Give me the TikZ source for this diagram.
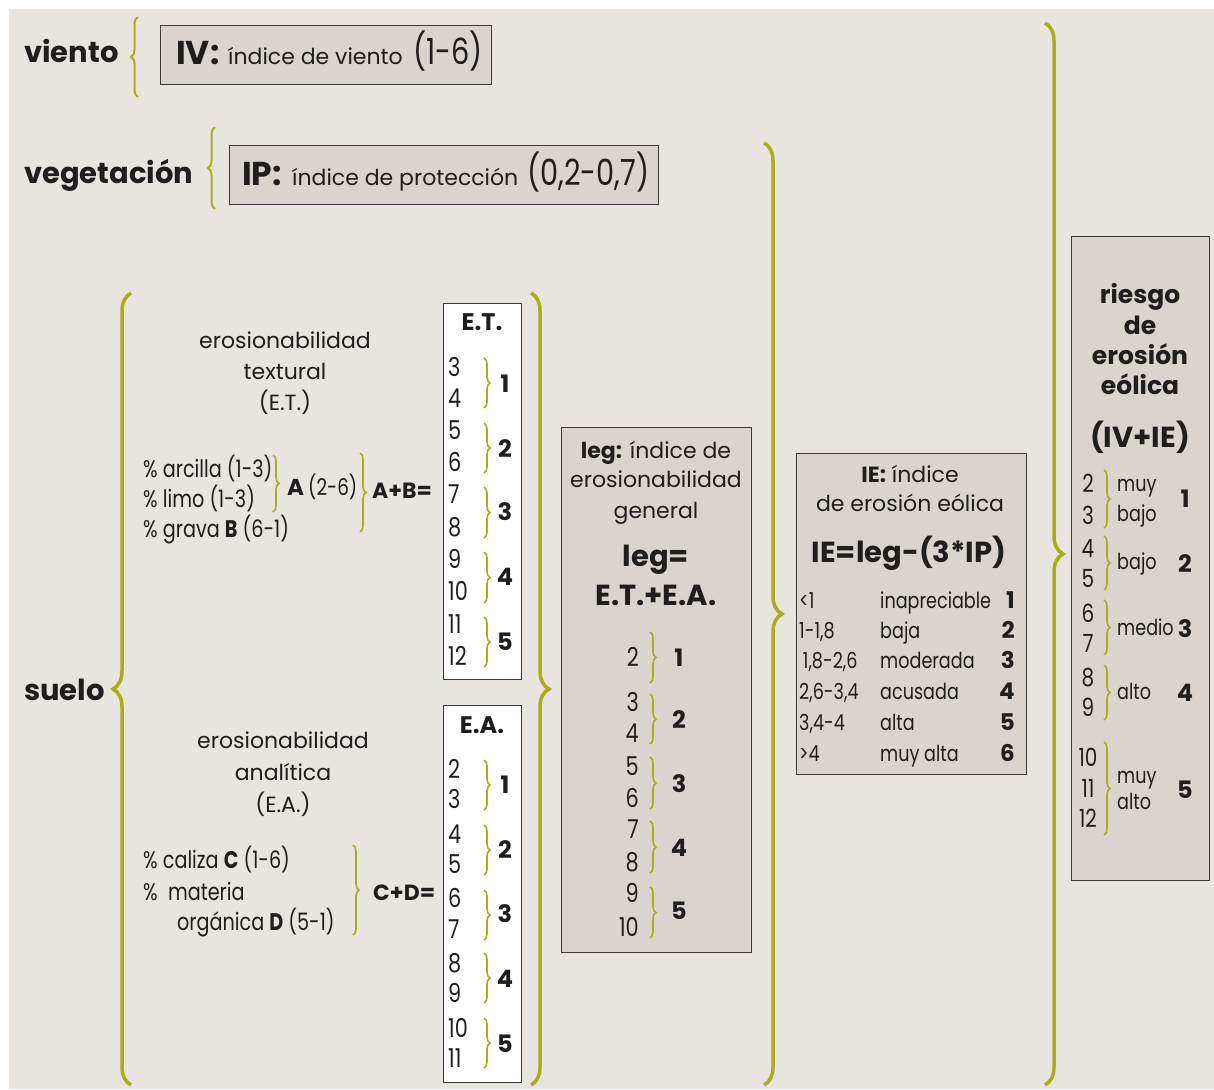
\documentclass[tikz,border=0pt]{standalone}
\usepackage{fontspec}
\setmainfont{Poppins}
\newfontfamily\cnd[FakeStretch=0.8]{Poppins}
\usetikzlibrary{decorations.pathreplacing}
\definecolor{bgc}{RGB}{232,228,224}
\definecolor{boxfill}{RGB}{217,212,206}
\definecolor{brolive}{RGB}{169,173,27}
\definecolor{ink}{RGB}{30,30,30}
\definecolor{framec}{RGB}{60,60,60}
\newcommand{\fsz}[1]{\fontsize{#1}{#1}\selectfont}
\begin{document}
\begin{tikzpicture}[x=1pt,y=-1pt,
  txt/.style={anchor=base west, inner sep=0pt, text=ink},
  ctxt/.style={anchor=base, inner sep=0pt, text=ink},
  rtxt/.style={anchor=base east, inner sep=0pt, text=ink},
  bigbrace/.style={draw=brolive, line width=3.5pt, decorate, decoration={brace, amplitude=18pt}},
  midbrace/.style={draw=brolive, line width=2pt, decorate, decoration={brace, amplitude=7pt}},
  smallbrace/.style={draw=brolive, line width=1.6pt, decorate, decoration={brace, amplitude=6pt}},
  graybox/.style={draw=framec, fill=boxfill, line width=1.3pt, anchor=north west, inner sep=0pt},
  whitebox/.style={draw=framec, fill=white, line width=1.3pt, anchor=north west, inner sep=0pt},
  lab/.style={txt, font=\bfseries\fsz{29}},
  body/.style={font=\fsz{22}},
  cond/.style={font=\cnd\fsz{24}},
  dig/.style={font=\cnd\fsz{26}},
  bnum/.style={ctxt, font=\bfseries\fsz{24}},
  hd/.style={ctxt, font=\bfseries\fsz{24}},
  bighd/.style={ctxt, font=\bfseries\fsz{29}}
]
\useasboundingbox (0,0) rectangle (1214,1089);
\fill[white] (0,0) rectangle (1214,1089);
\fill[bgc] (9,9) rectangle (1214,1089);

% ---------------- viento ----------------
\node[lab] (viento) at (24,63) {viento};
\draw[midbrace] (138,97) -- (138,17);
\node[graybox, minimum width=331pt, minimum height=59pt] (ivbox) at (160,25) {};
\node[txt, font=\bfseries\fsz{33}] (ivA) at (176,65) {IV:};
\node[txt, font=\fsz{22}] (ivB) at (228,65) {índice de viento};
\node[txt, font=\cnd\fsz{36}] (ivC) at (413,65) {(1-6)};

% ---------------- vegetacion ----------------
\node[lab] (veg) at (24,183) {vegetación};
\draw[midbrace] (215,209) -- (215,127);
\node[graybox, minimum width=429pt, minimum height=59pt] (ipbox) at (229,145) {};
\node[txt, font=\bfseries\fsz{33}] (ipA) at (242,185) {IP:};
\node[txt, font=\fsz{22}] (ipB) at (292,185) {índice de protección};
\node[txt, font=\cnd\fsz{36}] (ipC) at (527,185) {(0,2-0,7)};

% ---------------- suelo ----------------
\node[lab] (suelo) at (24,700) {suelo};
\draw[bigbrace] (131,1085) -- (131,293);

% textural
\node[ctxt, body] (et1) at (285,348) {erosionabilidad};
\node[ctxt, body] (et2) at (285,379) {textural};
\node[ctxt, body] (et3) at (285,410) {(E.T.)};
\node[txt, cond] (arc) at (143,477) {\% arcilla (1-3)};
\node[txt, cond] (lim) at (143,507) {\% limo (1-3)};
\node[txt, cond] (gra) at (143,537) {\% grava \textbf{B} (6-1)};
\draw[smallbrace] (273,455) -- (273,512);
\node[txt, font=\bfseries\fsz{23}] (aA) at (287,495) {A};
\node[txt, font=\cnd\fsz{23}] (aB) at (308,495) {(2-6)};
\draw[smallbrace] (360,453) -- (360,532);
\node[txt, font=\bfseries\fsz{22}] (apb) at (372,498) {A+B=};

\node[whitebox, minimum width=78pt, minimum height=376pt] (etbox) at (443,303) {};
\node[hd] (ethd) at (482,330) {E.T.};
\foreach \n/\y in {3/376,4/407,5/439,6/471,7/503,8/536,9/568,10/600,11/633,12/665}
  \node[txt, dig] (etd\n) at (448,\y) {\n};
\foreach \a/\b in {358/408,423/473,487/538,552/603,617/667}
  \draw[smallbrace] (484,\a) -- (484,\b);
\foreach \n/\y in {1/392,2/457,3/520,4/585,5/650}
  \node[bnum] (etn\n) at (505,\y) {\n};

% analitica
\node[ctxt, body] (ea1) at (283,748) {erosionabilidad};
\node[ctxt, body] (ea2) at (283,780) {analítica};
\node[ctxt, body] (ea3) at (283,812) {(E.A.)};
\node[txt, cond] (cal) at (143,868) {\% caliza \textbf{C} (1-6)};
\node[txt, cond] (mat) at (143,900) {\%\ \ materia};
\node[txt, cond] (org) at (177,930) {orgánica \textbf{D} (5-1)};
\draw[smallbrace] (353,845) -- (353,935);
\node[txt, font=\bfseries\fsz{22}] (cpd) at (373,900) {C+D=};

\node[whitebox, minimum width=78pt, minimum height=377pt] (eabox) at (443,705) {};
\node[hd] (eahd) at (482,733) {E.A.};
\foreach \n/\y in {2/778,3/808,4/843,5/873,6/907,7/938,8/972,9/1002,10/1037,11/1067}
  \node[txt, dig] (ead\n) at (448,\y) {\n};
\foreach \a/\b in {760/810,825/875,890/940,953/1003,1018/1068}
  \draw[smallbrace] (484,\a) -- (484,\b);
\foreach \n/\y in {1/793,2/858,3/922,4/987,5/1052}
  \node[bnum] (ean\n) at (505,\y) {\n};

\draw[bigbrace] (531,293) -- (531,1085);

% ---------------- leg ----------------
\node[graybox, minimum width=190pt, minimum height=525pt] (legbox) at (561,427) {};
\node[ctxt, body] (leg1) at (656,458) {\textbf{leg:} índice de};
\node[ctxt, body] (leg2) at (656,487) {erosionabilidad};
\node[ctxt, body] (leg3) at (656,518) {general};
\node[bighd] (leg4) at (656,566) {leg=};
\node[bighd] (leg5) at (656,605) {E.T.+E.A.};
\foreach \n/\y in {2/666,3/711,4/742,5/775,6/807,7/838,8/871,9/902,10/936}
  \node[rtxt, dig] (legd\n) at (639,\y) {\n};
\foreach \a/\b in {632/683,694/744,757/809,821/873,887/938}
  \draw[smallbrace] (650,\a) -- (650,\b);
\foreach \n/\y in {1/666,2/728,3/792,4/856,5/919}
  \node[bnum] (legn\n) at (679,\y) {\n};

\draw[bigbrace] (764,143) -- (764,1085);

% ---------------- IE ----------------
\node[graybox, minimum width=230pt, minimum height=321pt] (iebox) at (796,453) {};
\node[ctxt, body] (ie1) at (910,482) {\textbf{IE:} índice};
\node[ctxt, body] (ie2) at (910,511) {de erosión eólica};
\node[bighd] (ie3) at (909,562) {IE=leg-(3*IP)};
\foreach \i/\a/\b/\c/\y in {1/{<1}/inapreciable/1/608, 2/{1-1,8}/baja/2/638, 3/{\,1,8-2,6}/moderada/3/668, 4/{2,6-3,4}/acusada/4/699, 5/{3,4-4}/alta/5/730, 6/{>4}/muy alta/6/761}{
  \node[txt, font=\cnd\fsz{22}] (iea\i) at (799,\y) {\a};
  \node[txt, font=\cnd\fsz{22}] (ieb\i) at (880,\y) {\b};
  \node[rtxt, font=\bfseries\fsz{23}] (iec\i) at (1015,\y) {\c};
}

\draw[bigbrace] (1045,23) -- (1045,1085);

% ---------------- riesgo ----------------
\node[graybox, minimum width=138pt, minimum height=644pt] (rbox) at (1071,236) {};
\node[ctxt, font=\bfseries\fsz{25}] (r1) at (1140,303) {riesgo};
\node[ctxt, font=\bfseries\fsz{25}] (r2) at (1140,334) {de};
\node[ctxt, font=\bfseries\fsz{25}] (r3) at (1140,364) {erosión};
\node[ctxt, font=\bfseries\fsz{25}] (r4) at (1140,394) {eólica};
\node[bighd] (r5) at (1140,447) {(IV+IE)};
\foreach \n/\y in {2/492,3/524,4/557,5/587,6/622,7/652,8/686,9/716,10/766,11/797,12/827}
  \node[ctxt, font=\cnd\fsz{25}] (rd\n) at (1088,\y) {\n};
\foreach \a/\b in {470/528,536/590,600/655,665/720,742/835}
  \draw[smallbrace] (1104,\a) -- (1104,\b);
\node[txt, font=\cnd\fsz{22}] (rw1) at (1117,491) {muy};
\node[txt, font=\cnd\fsz{22}] (rw2) at (1117,521) {bajo};
\node[txt, font=\cnd\fsz{22}] (rw3) at (1117,569) {bajo};
\node[txt, font=\cnd\fsz{22}] (rw4) at (1117,635) {medio};
\node[txt, font=\cnd\fsz{22}] (rw5) at (1117,699) {alto};
\node[txt, font=\cnd\fsz{22}] (rw6) at (1117,783) {muy};
\node[txt, font=\cnd\fsz{22}] (rw7) at (1117,809) {alto};
\foreach \n/\y in {1/507,2/572,3/637,4/701,5/798}
  \node[bnum] (rn\n) at (1185,\y) {\n};
\end{tikzpicture}
\end{document}
